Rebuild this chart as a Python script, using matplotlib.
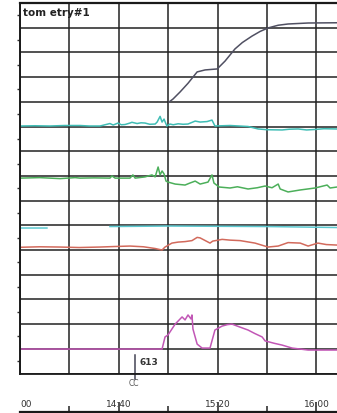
import numpy as np
import matplotlib
matplotlib.use("Agg")
import matplotlib.pyplot as plt

# minutes after 14:00 and trace level in grid rows (0 = bottom grid line)
gray_t = [60.3, 61.9, 64.8, 68.0, 71.7, 74.9, 79.8, 83.0, 87.0, 90.0, 93.9, 97.2, 100.4, 104.5, 108.5, 116.6, 128.3]
gray_v = [10.99, 11.11, 11.40, 11.75, 12.21, 12.29, 12.33, 12.65, 13.14, 13.40, 13.66, 13.85, 13.99, 14.10, 14.15, 14.19, 14.20]

cyan_t = [0, 6, 12.1, 18, 24.3, 28, 32.4, 36.4, 37.7, 39.7, 41, 42.5, 44.5, 45.3, 47.4, 49, 50.6, 52.5, 54.7, 55.5,
          56.7, 57.5, 58.3, 59.1, 59.5, 60.7, 62, 64.0, 66, 68.0, 70.9, 72.9, 75.7, 77.7, 78.9, 85.0, 92.3, 96.4,
          100, 106.1, 109, 112.6, 116, 119.4, 123, 128.3]
cyan_v = [10.02, 10.03, 10.02, 10.04, 10.04, 10.02, 10.02, 10.12, 10.06, 10.14, 10.07, 10.08, 10.14, 10.17, 10.12, 10.15,
          10.14, 10.09, 10.10, 10.18, 10.41, 10.18, 10.30, 10.10, 10.02, 10.10, 10.07, 10.11, 10.09, 10.10, 10.22, 10.18,
          10.20, 10.26, 10.02, 10.04, 10.00, 9.90, 9.87, 9.86, 9.89, 9.90, 9.86, 9.88, 9.91, 9.90]

green_t = [0, 8, 16.2, 22.3, 24.3, 30, 36.4, 37.2, 38.5, 44.5, 45.7, 46.6, 50.6, 53.4, 54.7, 55.9, 56.7, 57.5, 58.3,
           59.1, 59.9, 62.8, 66.8, 68.5, 70.9, 72.9, 76.1, 77.7, 78.5, 80.6, 85.0, 88, 92.3, 96, 99.2, 102,
           104.5, 105.3, 108.5, 113.4, 119.4, 124.3, 125.5, 128.3]
green_v = [7.91, 7.93, 7.89, 7.93, 7.91, 7.92, 7.91, 8.00, 7.91, 7.91, 8.04, 7.91, 7.96, 8.04, 7.96, 8.36, 8.04, 8.20,
           8.08, 7.79, 7.75, 7.67, 7.63, 7.70, 7.79, 7.67, 7.75, 8.04, 7.71, 7.55, 7.51, 7.56, 7.47, 7.52, 7.59, 7.52,
           7.67, 7.47, 7.35, 7.43, 7.51, 7.63, 7.51, 7.55]

cyan2_t = [0, 10.9, 11.0, 36.4, 60, 100, 128.3]
cyan2_v = [5.89, 5.89, np.nan, 5.95, 5.97, 5.95, 5.91]

red_t = [0, 8, 16, 24, 32.4, 38, 44.5, 50, 54.7, 56.5, 57.5, 58.7, 61.5, 64, 66.8, 69.6, 71.7, 72.9, 76.9, 78,
         81.8, 85, 89.1, 95.1, 100.4, 104.5, 108.5, 113.4, 116.6, 120.6, 124, 128.3]
red_v = [5.11, 5.13, 5.12, 5.10, 5.12, 5.14, 5.16, 5.13, 5.06, 5.02, 5.00, 5.12, 5.28, 5.32, 5.34, 5.38, 5.51, 5.49,
         5.28, 5.36, 5.43, 5.40, 5.38, 5.28, 5.12, 5.16, 5.30, 5.28, 5.16, 5.28, 5.22, 5.20]

mag_t = [0, 57.5, 58.7, 59.9, 62.8, 65.6, 66.8, 68.0, 69.2, 69.6, 70.0, 71.7, 73.7, 76.9, 78.9, 81.8, 84, 85.8,
         89, 92.3, 95, 98.0, 99.2, 103, 106.1, 110.1, 116.6, 128.3]
mag_v = [0.99, 0.99, 1.48, 1.56, 2.00, 2.29, 2.17, 2.37, 2.21, 2.37, 1.80, 1.19, 1.03, 1.03, 1.76, 1.92, 1.98, 2.00,
         1.88, 1.76, 1.62, 1.48, 1.32, 1.22, 1.15, 1.03, 0.95, 0.95]

event_t = 46.6
event_label = "613"
event_code = "CC"
title = "tom etry#1"

time_ticks = [0, 20, 40, 60, 80, 100, 120]
time_labels = {0: "00", 40: "14:40", 80: "15:20", 120: "16:00"}

W, H = 337, 414
fig = plt.figure(figsize=(W / 100, H / 100), dpi=100)
fig.patch.set_facecolor("white")

xmax = 128.3
ax = fig.add_axes([20 / W, 39.5 / H, 1 - 20 / W, 370.5 / H])
ax.set_xticks(np.arange(0, 141, 20))
ax.set_yticks(np.arange(0, 16, 1))
ax.set_yticks(np.arange(0.5, 15, 1), minor=True)
ax.set_xlim(0, xmax)
ax.set_ylim(0, 15)
ax.grid(True, which="major", color="#222222", linewidth=1.1)
ax.tick_params(which="major", length=0, labelbottom=False, labelleft=False)
ax.tick_params(axis="y", which="minor", length=2.5, width=1, color="#333333", direction="out")
ax.tick_params(axis="x", which="minor", length=0)
for side in ("top", "left", "bottom"):
    ax.spines[side].set_color("#1a1a1a")
ax.spines["top"].set_linewidth(1.6)
ax.spines["left"].set_linewidth(1.4)
ax.spines["bottom"].set_linewidth(1.3)
ax.spines["right"].set_visible(False)

lw = 1.1
ax.plot(gray_t, gray_v, color="#505062", lw=lw)
ax.plot(cyan_t, cyan_v, color="#3fbdb5", lw=lw)
ax.plot(green_t, green_v, color="#4caf5a", lw=lw)
ax.plot(cyan2_t, cyan2_v, color="#5cc9d0", lw=lw)
ax.plot(red_t, red_v, color="#d26a5c", lw=lw)
ax.plot(mag_t, mag_v, color="#c257b6", lw=lw)

ax.text(1.3, 14.64, title, fontsize=7.5, fontweight="bold", color="#222222", ha="left", va="center")

ax.plot([event_t, event_t], [0.75, -0.22], color="#444455", lw=1.1, clip_on=False)
ax.text(event_t + 1.8, 0.5, event_label, fontsize=6.5, fontweight="bold", color="#333333", ha="left", va="center")
ax.text(event_t - 0.5, -0.38, event_code, fontsize=5.5, color="#555555", ha="center", va="center", clip_on=False)

# time axis along the bottom
tax = fig.add_axes([20 / W, 1 / H, 1 - 20 / W, 20 / H])
tax.set_xticks([t for t in time_ticks if t in time_labels])
tax.set_xticks([t for t in time_ticks if t not in time_labels], minor=True)
tax.set_xlim(0, xmax)
tax.set_ylim(0, 1)
tax.patch.set_alpha(0)
for side in ("top", "left", "right"):
    tax.spines[side].set_visible(False)
tax.spines["bottom"].set_linewidth(1.6)
tax.spines["bottom"].set_color("#1a1a1a")
tax.set_yticks([])
tax.tick_params(axis="x", which="major", direction="in", length=7.5, width=1.1, color="#222222", labelbottom=False)
tax.tick_params(axis="x", which="minor", direction="in", length=4.3, width=1.1, color="#222222")
tax.get_xticklines()[0].set_visible(False)
for t, lab in time_labels.items():
    if t == 0:
        tax.text(t + 0.3, 0.42, lab, fontsize=6.5, color="#333333", ha="left", va="center")
    else:
        tax.text(t, 0.42, lab, fontsize=6.5, color="#333333", ha="center", va="center")

fig.savefig("out.png", dpi=100, facecolor="white")
